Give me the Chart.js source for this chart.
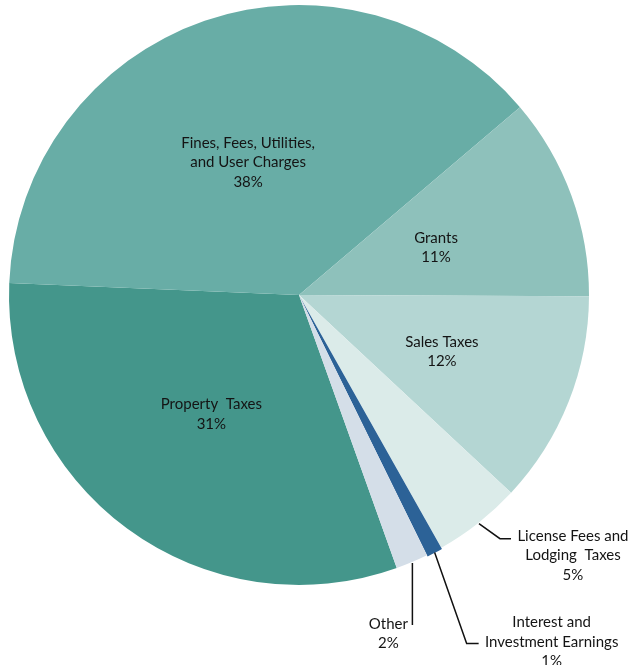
<!DOCTYPE html>
<html>
<head>
<meta charset="utf-8">
<script src="https://cdn.jsdelivr.net/npm/chart.js@4.4.0/dist/chart.umd.min.js"></script>
<style>
html,body{margin:0;padding:0;background:#fff}
#wrap{width:629px;height:665px}
</style>
</head>
<body>
<div id="wrap"><canvas id="c" width="629" height="665"></canvas></div>
<script>
// slices go clockwise, starting at the Other/Property edge
const categories = ['Property Taxes', 'Fines, Fees, Utilities, and User Charges', 'Grants', 'Sales Taxes',
	'License Fees and Lodging Taxes', 'Interest and Investment Earnings', 'Other'];
const labelLines = [['Property  Taxes'], ['Fines, Fees, Utilities,', 'and User Charges'], ['Grants'], ['Sales Taxes'],
	['License Fees and', 'Lodging  Taxes'], ['Interest and', 'Investment Earnings'], ['Other']];
const shares = [31.2, 38.2, 11.3, 11.9, 4.9, 0.9, 1.8];
const colours = ['#44968b', '#68ada6', '#8ec1bb', '#b4d6d3', '#dbebe9', '#2c6297', '#d4dee8'];

// label placement: inside ones sit on a fraction of the radius,
// outside ones get a leader line (offsets from the slice edge)
const place = [
	{'r': 0.51},
	{'r': 0.49, 'shift': -2},
	{'r': 0.5, 'shift': 1},
	{'r': 0.53},
	{'leader': [[21, 15], [32, 15]], 'text': [62, -3]},
	{'leader': [[32, 91], [44, 91]], 'text': [73, -21]},
	{'leader': [[0, 62]], 'text': [-24, -1]}
];

const fontSize = 15;
const lineH = 19.5;

const pieLabels = {
	id: 'pieLabels',
	afterDatasetsDraw(chart){
		var ctx = chart.ctx;
		var meta = chart.getDatasetMeta(0);
		var total = shares.reduce(function(a, b){ return a + b; }, 0);
		ctx.save();
		ctx.font = fontSize + 'px Lato, "Open Sans", sans-serif';
		ctx.fillStyle = '#141414';
		ctx.strokeStyle = '#111';
		ctx.lineWidth = 1.5;
		ctx.textAlign = 'center';
		ctx.textBaseline = 'middle';
		meta.data.forEach(function(arc, i){
			var p = arc.getProps(['x', 'y', 'startAngle', 'endAngle', 'outerRadius'], true);
			var o = place[i];
			var mid = (p.startAngle + p.endAngle) / 2 + (o.shift || 0) * Math.PI / 180;
			var lines = labelLines[i].concat([Math.round(shares[i] / total * 100) + '%']);
			var tx, ty;
			if(o.leader){
				var ex = p.x + Math.cos(mid) * (p.outerRadius + 1);
				var ey = p.y + Math.sin(mid) * (p.outerRadius + 1);
				ctx.beginPath();
				ctx.moveTo(ex, ey);
				o.leader.forEach(function(d){ ctx.lineTo(ex + d[0], ey + d[1]); });
				ctx.stroke();
				var last = o.leader[o.leader.length - 1];
				tx = ex + last[0] + o.text[0];
				ty = ey + last[1] + o.text[1];
			}else{
				tx = p.x + Math.cos(mid) * p.outerRadius * o.r;
				ty = p.y + Math.sin(mid) * p.outerRadius * o.r - (lines.length - 1) * lineH / 2;
			}
			lines.forEach(function(t, k){ ctx.fillText(t, tx, ty + k * lineH); });
		});
		ctx.restore();
	}
};

new Chart(document.getElementById('c'), {
	type: 'pie',
	data: {
		labels: categories,
		datasets: [{
			data: shares,
			backgroundColor: colours,
			borderWidth: 0,
			offset: [0, 0, 0, 0, 0, 3, 0]
		}]
	},
	options: {
		responsive: false,
		animation: false,
		rotation: 160.3,
		layout: {padding: {left: 7.5, top: 3.5, right: 38.5, bottom: 78.5}},
		plugins: {legend: {display: false}, tooltip: {enabled: false}}
	},
	plugins: [pieLabels]
});
</script>
</body>
</html>
